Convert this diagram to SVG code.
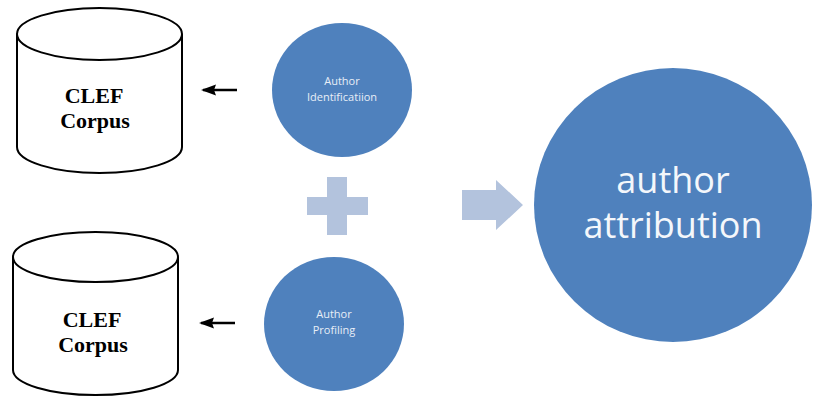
<svg xmlns="http://www.w3.org/2000/svg" width="813" height="397" viewBox="0 0 813 397">
<style>
.cyl{fill:#fff;stroke:#000;stroke-width:2}
.db{font-family:"Liberation Serif",serif;font-weight:bold;font-size:22px;fill:#000;text-anchor:middle}
.bub{fill:#4f81bd}
.sm{font-family:"Open Sans","Noto Sans",sans-serif;font-size:11px;fill:#e8eef7;text-anchor:middle}
.big{font-family:"Open Sans","Noto Sans",sans-serif;font-size:36px;fill:#f4f7fb;text-anchor:middle}
.pale{fill:#b3c3dd}
.conn{stroke:#000;stroke-width:2.5;fill:none}
</style>
<defs>
<marker id="ah" markerWidth="15" markerHeight="12" refX="13" refY="6" orient="auto" markerUnits="userSpaceOnUse">
<path d="M0,0.5 L15,6 L0,11.5 L2,6 Z" fill="#000"/>
</marker>
</defs>
<g id="clef-top">
<path class="cyl" d="M17,34 L17,147 A82.5,26 0 0 0 182,147 L182,34"/>
<ellipse class="cyl" cx="99.5" cy="34" rx="82.5" ry="26"/>
<text class="db" x="94" y="103">CLEF</text>
<text class="db" x="95" y="128">Corpus</text>
</g>
<g id="clef-bottom">
<path class="cyl" d="M13,257 L13,370 A82.5,25 0 0 0 178,370 L178,257"/>
<ellipse class="cyl" cx="95.5" cy="257" rx="82.5" ry="25"/>
<text class="db" x="92" y="327">CLEF</text>
<text class="db" x="93" y="352">Corpus</text>
</g>
<g id="author-identification">
<ellipse class="bub" cx="342" cy="90" rx="70" ry="67"/>
<text class="sm" x="342" y="85">Author</text>
<text class="sm" x="342" y="101">Identificatiion</text>
</g>
<g id="author-profiling">
<ellipse class="bub" cx="334" cy="324" rx="70" ry="67"/>
<text class="sm" x="334" y="318">Author</text>
<text class="sm" x="334" y="334">Profiling</text>
</g>
<g id="plus">
<path class="pale" d="M327,177 H347 V197 H368 V215 H347 V235 H327 V215 H307 V197 H327 Z"/>
</g>
<g id="author-attribution">
<ellipse class="bub" cx="673" cy="205" rx="139" ry="137"/>
<text class="big" x="673" y="193">author</text>
<text class="big" x="673" y="238">attribution</text>
</g>
<g id="connectors">
<line class="conn" x1="237" y1="90" x2="203" y2="90" marker-end="url(#ah)"/>
<line class="conn" x1="235" y1="323" x2="201" y2="323" marker-end="url(#ah)"/>
<path class="pale" d="M462,190 H496 V180 L523,205 L496,230 V220 H462 Z"/>
</g>
</svg>
